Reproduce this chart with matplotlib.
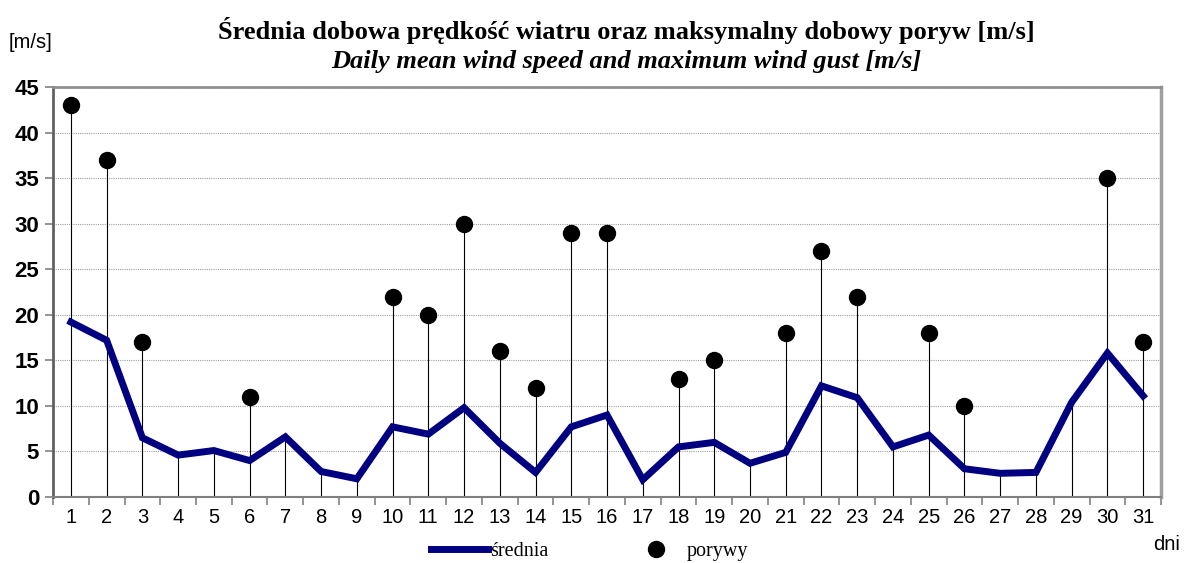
import numpy as np
import matplotlib.pyplot as plt
from matplotlib.lines import Line2D

# dni miesiaca
days = np.arange(1, 32)
# srednia dobowa predkosc wiatru [m/s]
mean_speed = [19.2, 17.2, 6.5, 4.6, 5.1, 4.0, 6.6, 2.8, 2.0, 7.7,
              6.9, 9.8, 5.9, 2.7, 7.7, 9.0, 1.9, 5.5, 6.0, 3.7,
              4.9, 12.2, 10.9, 5.5, 6.8, 3.1, 2.6, 2.7, 10.4, 15.8,
              11.1]
# maksymalny poryw [m/s] (None = brak)
gusts = [43, 37, 17, None, None, 11, None, None, None, 22,
         20, 30, 16, 12, 29, 29, None, 13, 15, None,
         18, 27, 22, None, 18, 10, None, None, None, 35,
         17]

gust_arr = np.array([np.nan if g is None else g for g in gusts], float)
stem_top = np.where(np.isnan(gust_arr), mean_speed, gust_arr)

plt.rcParams['font.family'] = ['Liberation Sans', 'DejaVu Sans']

fig = plt.figure(figsize=(11.84, 5.63), dpi=100)
ax = fig.add_axes([0.0448, 0.1172, 0.9358, 0.7283])

ax.vlines(days, 0, stem_top, colors='black', linewidth=0.8, zorder=2)
ax.plot(days, mean_speed, color='#000080', linewidth=5,
        solid_joinstyle='miter', zorder=3)
ax.plot(days, gust_arr, 'o', color='black', markersize=11.5, linestyle='none', zorder=4)

ax.set_xlim(0.5, 31.5)
ax.set_ylim(0, 45)
ax.set_yticks(np.arange(0, 46, 5))
ax.set_xticks(days)
ax.set_xticks(np.arange(0.5, 32, 1), minor=True)
ax.tick_params(axis='x', which='major', length=0, labelsize=14.5, pad=8)
ax.tick_params(axis='x', which='minor', length=6, color='#808080', width=1.2)
ax.tick_params(axis='y', length=6, color='#808080', width=1.2, labelsize=16, pad=4)
for lab in ax.get_yticklabels():
    lab.set_fontweight('bold')

ax.grid(axis='y', linestyle=(0, (1, 1)), color='#a0a0a0', linewidth=0.8)
ax.set_axisbelow(True)
ax.spines['left'].set_color('#606060')
ax.spines['left'].set_linewidth(2)
ax.spines['bottom'].set_color('#808080')
ax.spines['bottom'].set_linewidth(1.5)
ax.spines['top'].set_color('#909090')
ax.spines['top'].set_linewidth(2)
ax.spines['right'].set_color('#a0a0a0')
ax.spines['right'].set_linewidth(2.5)

fig.text(0.529, 0.945, 'Średnia dobowa prędkość wiatru oraz maksymalny dobowy poryw [m/s]',
         ha='center', va='center', fontsize=19, fontweight='bold', family='Liberation Serif')
fig.text(0.529, 0.891, 'Daily mean wind speed and maximum wind gust [m/s]',
         ha='center', va='center', fontsize=19, fontstyle='italic', fontweight='bold',
         family='Liberation Serif')
fig.text(0.007, 0.925, '[m/s]', ha='left', va='center', fontsize=14.5)
fig.text(0.985, 0.032, 'dni', ha='center', va='center', fontsize=14.5)

handles = [Line2D([], [], color='#000080', linewidth=5),
           Line2D([], [], marker='o', color='black', markersize=11.5, linestyle='none')]
fig.legend(handles, ['średnia', 'porywy'], loc='center', bbox_to_anchor=(0.498, 0.02),
           ncol=2, frameon=False, prop={'family': 'Liberation Serif', 'size': 14.5},
           handlelength=2.83, handletextpad=0.1, columnspacing=3.9)

fig.savefig('out.png', dpi=100)
